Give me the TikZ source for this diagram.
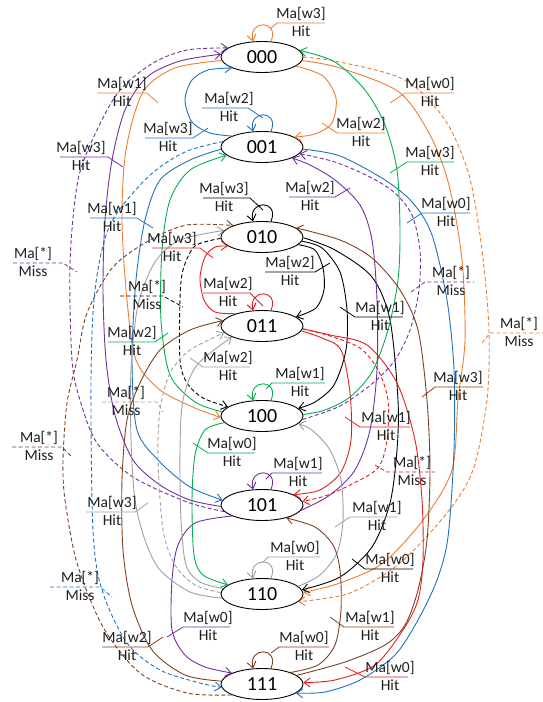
\documentclass[tikz,border=0pt]{standalone}
\usepackage{fontspec}
\setmainfont{Carlito}
\usetikzlibrary{arrows.meta,shapes.geometric}
\definecolor{corange}{HTML}{ED7D31}
\definecolor{cblue}{HTML}{1F72C0}
\definecolor{cgreen}{HTML}{00B050}
\definecolor{cpurple}{HTML}{7030A0}
\definecolor{cgray}{HTML}{A0A0A0}
\definecolor{cred}{HTML}{E02020}
\definecolor{cbrown}{HTML}{7F4020}
\tikzset{
 st/.style={ellipse,draw,line width=0.9pt,minimum width=82pt,minimum height=31pt,inner sep=0pt,font=\fontsize{20}{22}\selectfont},
 tr/.style={line width=0.9pt,-{Straight Barb[length=6pt,width=9pt]}},
 ms/.style={dash pattern=on 4pt off 2.5pt},
 lt/.style={font=\fontsize{15.5}{17}\selectfont,inner sep=0pt,text=black!88},
 ul/.style={line width=0.8pt},
}
\newcommand\clR[9]{%
 \node[lt,anchor=base] (#1t) at (#3,{#4-4.5}) {#7};
 \node[lt,anchor=base] (#1b) at (#3,{#4+13}) {#8};
 \draw[ul,#2] (#5,#4) -- (#6,#4) -- #9;}
\newcommand\clL[9]{%
 \node[lt,anchor=base] (#1t) at (#3,{#4-4.5}) {#7};
 \node[lt,anchor=base] (#1b) at (#3,{#4+13}) {#8};
 \draw[ul,#2] #9 -- (#5,#4) -- (#6,#4);}
\newcommand\sloop[2]{\draw[tr,#2] (#1.60) .. controls +(9,-22) and +(-5,-22) .. (#1.120);}
\begin{document}
\begin{tikzpicture}[x=1pt,y=-1pt]
\useasboundingbox (0,0) rectangle (543,702);
\node[st] (s000) at (262,57) {000};
\node[st] (s001) at (262,147) {001};
\node[st] (s010) at (262,237) {010};
\node[st] (s011) at (262,326) {011};
\node[st] (s100) at (262,416) {100};
\node[st] (s101) at (262,505) {101};
\node[st] (s110) at (262,594) {110};
\node[st] (s111) at (262,684) {111};

% self loops
\sloop{s000}{corange}
\sloop{s001}{cblue}
\sloop{s010}{black}
\sloop{s011}{cred}
\sloop{s100}{cgreen}
\sloop{s101}{cpurple}
\sloop{s110}{cgray}
\sloop{s111}{cbrown}

% 000 orange
\draw[tr,corange] plot[smooth] coordinates {(s000.-15) (323,76) (336,98) (332,123) (315,134) (s001.17)};
\draw[tr,corange] plot[smooth] coordinates {(s000.185) (175,68) (143,92) (126,150) (122,220) (127,300) (136,360) (160,390) (195,408) (s100.182)};
\draw[tr,corange] plot[smooth] coordinates {(s000.-5) (340,68) (399,92) (430,135) (449,185) (462,260) (465,340) (458,400) (452,470) (423,520) (383,563) (340,583) (s110.2)};
\draw[tr,corange,ms] plot[smooth] coordinates {(s000.0) (340,62) (405,80) (445,120) (469,175) (482,250) (489,330) (487,400) (473,470) (447,513) (400,563) (350,593) (s110.-12)};

% 001 blue
\draw[tr,cblue] plot[smooth] coordinates {(s001.160) (210,133) (192,122) (185,100) (192,80) (208,70) (s000.200)};
\draw[tr,cblue] plot[smooth] coordinates {(s001.183) (190,160) (160,180) (145,220) (136,280) (132,360) (137,430) (160,462) (190,487) (s101.173)};
\draw[tr,cblue] plot[smooth] coordinates {(s001.-3) (340,156) (385,180) (413,203) (432,235) (447,300) (454,370) (454,450) (448,537) (437,580) (418,620) (395,655) (360,680) (325,692) (s111.-15)};
\draw[tr,cblue,ms] plot[smooth] coordinates {(s001.172) (185,152) (148,177) (110,225) (95,290) (91,380) (93,530) (102,590) (127,643) (160,670) (200,683) (s111.185)};

% 010 black
\draw[tr,black] plot[smooth] coordinates {(s010.-12) (315,250) (323,268) (324,290) (316,308) (s011.15)};
\draw[tr,black] plot[smooth] coordinates {(s010.-6) (322,248) (340,272) (347,310) (346,350) (334,385) (315,402) (s100.12)};
\draw[tr,black] plot[smooth] coordinates {(s010.-1) (335,250) (372,277) (390,320) (398,400) (397,450) (390,503) (372,547) (340,577) (s110.6)};
\draw[tr,black,ms] plot[smooth] coordinates {(s010.182) (195,246) (183,270) (180,300) (180,360) (187,383) (203,398) (s100.165)};

% 011 red
\draw[tr,cred] plot[smooth] coordinates {(s011.155) (215,312) (204,300) (200,278) (205,257) (215,247) (s010.195)};
\draw[tr,cred] plot[smooth] coordinates {(s011.-7) (322,338) (341,350) (350,393) (351,440) (341,472) (320,490) (s101.18)};
\draw[tr,cred] plot[smooth] coordinates {(s011.-4) (330,335) (367,345) (397,383) (415,440) (422,500) (423,560) (418,600) (403,630) (375,665) (335,680) (s111.2)};
\draw[tr,cred,ms] plot[smooth] coordinates {(s011.-4) (330,336) (360,348) (378,370) (388,400) (387,440) (378,468) (350,485) (325,496) (s101.5)};

% 100 green
\draw[tr,cgreen] plot[smooth] coordinates {(s100.2) (325,410) (350,397) (372,372) (388,330) (398,280) (400,230) (397,170) (385,125) (365,90) (335,62) (s000.10)};
\draw[tr,cgreen] plot[smooth] coordinates {(s100.174) (195,402) (170,375) (161,320) (162,250) (170,200) (190,170) (s001.193)};
\draw[tr,cgreen] plot[smooth] coordinates {(s100.190) (205,430) (195,455) (192,500) (194,555) (203,575) (s110.165)};
\draw[tr,cpurple,ms] plot[smooth] coordinates {(s100.-5) (340,406) (373,383) (395,360) (410,330) (419,290) (420,250) (412,215) (395,193) (370,177) (335,162) (s001.-10)};

% 101 purple
\draw[tr,cpurple] plot[smooth] coordinates {(s101.182) (190,500) (160,485) (133,460) (115,415) (106,360) (103,290) (105,220) (112,160) (125,110) (147,77) (180,61) (s000.176)};
\draw[tr,cpurple,ms] plot[smooth] coordinates {(s101.190) (187,502) (133,477) (97,443) (80,400) (72,360) (70,263) (78,180) (97,130) (120,90) (153,63) (187,50) (s000.165)};
\draw[tr,cpurple] plot[smooth] coordinates {(s101.-8) (330,495) (355,470) (370,430) (377,370) (377,300) (372,240) (360,205) (335,180) (310,165) (s001.-20)};
\draw[tr,cpurple] plot[smooth] coordinates {(s101.200) (195,523) (178,545) (172,580) (172,630) (185,655) (205,667) (s111.160)};

% 110 gray
\draw[tr,cgray] plot[smooth] coordinates {(s110.12) (320,575) (337,553) (343,520) (341,480) (330,450) (312,430) (s100.-12)};
\draw[tr,cgray] plot[smooth] coordinates {(s110.172) (200,582) (186,565) (181,520) (180,450) (183,400) (197,365) (s011.200)};
\draw[tr,cgray] plot[smooth] coordinates {(s110.186) (190,592) (160,570) (145,540) (135,500) (131,440) (131,370) (138,305) (155,262) (180,240) (s010.170)};
\draw[tr,cgray,ms] plot[smooth] coordinates {(s110.178) (195,585) (175,565) (163,530) (158,460) (160,410) (170,373) (190,350) (s011.190)};

% 111 brown
\draw[tr,cbrown] plot[smooth] coordinates {(s111.22) (318,665) (335,645) (341,610) (340,570) (333,545) (315,527) (s101.-28)};
\draw[tr,cbrown] plot[smooth] coordinates {(s111.14) (345,662) (385,645) (405,625) (418,590) (427,540) (430,470) (427,400) (418,330) (400,290) (372,258) (340,240) (s010.15)};
\draw[tr,cbrown] plot[smooth] coordinates {(s111.176) (185,675) (152,650) (132,605) (123,550) (122,480) (127,420) (140,383) (160,350) (190,330) (s011.172)};
\draw[tr,cbrown,ms] plot[smooth] coordinates {(s111.200) (187,693) (140,673) (103,627) (77,563) (65,500) (63,460) (67,403) (77,360) (87,313) (113,267) (150,240) (187,225) (s010.158)};

% labels
\clL{o1}{corange}{301}{23}{277}{325}{Ma[w3]}{Hit}{(270,29)}
\clL{o2}{corange}{361}{133}{337}{385}{Ma[w2]}{Hit}{(322,123)}
\clR{o3}{corange}{122}{93}{97}{147}{Ma[w1]}{Hit}{(158,103)}
\clL{o4}{corange}{430}{93}{405}{454}{Ma[w0]}{Hit}{(390,103)}
\clL{o5}{corange,ms}{519}{333}{490}{543}{Ma[*]}{Miss}{(482,343)}
\clR{b1}{cblue}{229}{108}{202}{248}{Ma[w2]}{Hit}{(263,118)}
\clR{b2}{cblue}{168}{138}{145}{193}{Ma[w3]}{Hit}{(208,128)}
\clR{b3}{cblue}{112}{218}{90}{137}{Ma[w1]}{Hit}{(153,228)}
\clL{b4}{cblue}{446}{213}{422}{470}{Ma[w0]}{Hit}{(407,223)}
\clR{b5}{cblue,ms}{80}{587}{50}{100}{Ma[*]}{Miss}{(112,597)}
\clR{k1}{black}{224}{198}{203}{250}{Ma[w3]}{Hit}{(263,210)}
\clR{k2}{black}{290}{272}{265}{315}{Ma[w2]}{Hit}{(330,263)}
\clL{k3}{black}{380}{317}{355}{403}{Ma[w1]}{Hit}{(340,307)}
\clL{k4}{black}{390}{569}{365}{413}{Ma[w0]}{Hit}{(352,559)}
\clR{k5}{black,ms}{147}{296}{120}{163}{Ma[*]}{Miss}{(183,307)}
\clR{r1}{cred}{228}{293}{203}{250}{Ma[w2]}{Hit}{(263,306)}
\clR{r2}{cred}{172}{248}{152}{200}{Ma[w3]}{Hit}{(213,258)}
\clL{r3}{cred}{386}{427}{360}{410}{Ma[w1]}{Hit}{(345,417)}
\clL{r4}{cred}{390}{677}{365}{408}{Ma[w0]}{Hit}{(345,667)}
\clL{r5}{cred,ms}{412}{472}{387}{435}{Ma[*]}{Miss}{(375,465)}
\clL{g1}{cgreen}{300}{383}{272}{325}{Ma[w1]}{Hit}{(266,389)}
\clL{g2}{cgreen}{430}{162}{407}{454}{Ma[w3]}{Hit}{(390,173)}
\clR{g3}{cgreen}{132}{342}{108}{155}{Ma[w2]}{Hit}{(168,333)}
\clL{g4}{cgreen}{232}{453}{208}{255}{Ma[w0]}{Hit}{(193,443)}
\clL{p6}{cpurple,ms}{451}{282}{425}{474}{Ma[*]}{Miss}{(411,292)}
\clL{p1}{cpurple}{298}{473}{272}{322}{Ma[w1]}{Hit}{(266,479)}
\clR{p2}{cpurple}{310}{197}{289}{335}{Ma[w2]}{Hit}{(350,188)}
\clR{p3}{cpurple}{81}{157}{60}{108}{Ma[w3]}{Hit}{(123,167)}
\clL{p4}{cpurple}{208}{627}{183}{230}{Ma[w0]}{Hit}{(167,637)}
\clR{p5}{cpurple,ms}{33}{263}{13}{63}{Ma[*]}{Miss}{(77,272)}
\clL{y1}{cgray}{295}{557}{268}{320}{Ma[w0]}{Hit}{(262,563)}
\clL{y2}{cgray}{377}{517}{350}{397}{Ma[w1]}{Hit}{(335,527)}
\clL{y3}{cgray}{228}{367}{203}{250}{Ma[w2]}{Hit}{(190,358)}
\clR{y4}{cgray}{112}{512}{86}{135}{Ma[w3]}{Hit}{(148,503)}
\clR{y5}{cgray,ms}{126}{402}{102}{157}{Ma[*]}{Miss}{(163,412)}
\clL{n1}{cbrown}{304}{647}{279}{329}{Ma[w0]}{Hit}{(271,653)}
\clL{n2}{cbrown}{370}{627}{344}{394}{Ma[w1]}{Hit}{(330,617)}
\clL{n3}{cbrown}{458}{387}{435}{483}{Ma[w3]}{Hit}{(422,397)}
\clR{n4}{cbrown}{127}{647}{102}{148}{Ma[w2]}{Hit}{(163,637)}
\clR{n5}{cbrown,ms}{39}{447}{12}{62}{Ma[*]}{Miss}{(72,457)}
\end{tikzpicture}
\end{document}
